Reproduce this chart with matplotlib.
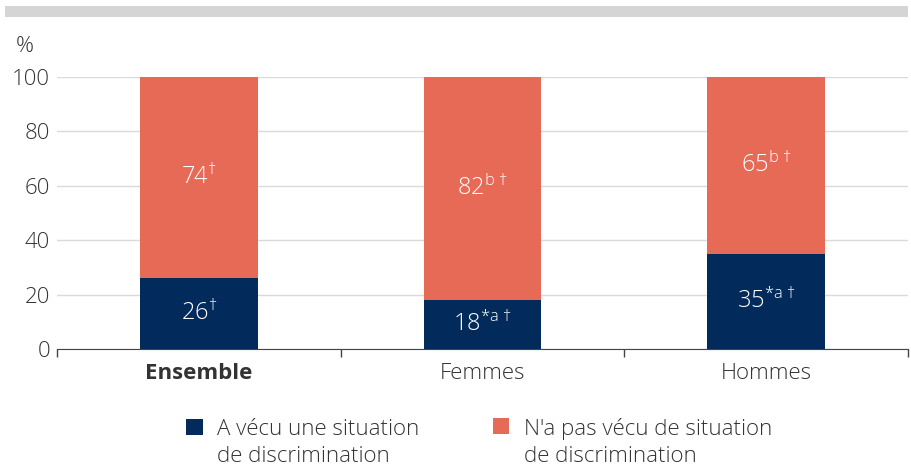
import matplotlib
matplotlib.use("Agg")
import matplotlib.pyplot as plt
from matplotlib.patches import Rectangle

plt.rcParams['font.family'] = ['Open Sans', 'DejaVu Sans']
plt.rcParams['font.weight'] = 'light'
plt.rcParams['mathtext.fontset'] = 'custom'
plt.rcParams['mathtext.rm'] = 'Open Sans:light'
plt.rcParams['mathtext.it'] = 'Open Sans:light'

categories = ["Ensemble", "Femmes", "Hommes"]
vecu = [26, 18, 35]
pas_vecu = [74, 82, 65]
vecu_marks = ["†", "*a †", "*a †"]
pas_vecu_marks = ["†", "b †", "b †"]
series_labels = ["A vécu une situation\nde discrimination",
                 "N'a pas vécu de situation\nde discrimination"]
yticks = [0, 20, 40, 60, 80, 100]

navy = "#022a5a"
coral = "#e76a57"
txt = "#333333"
FS = 16

W, H = 911, 468
fig = plt.figure(figsize=(W / 100, H / 100), dpi=100)
ax = fig.add_axes([57 / W, 1 - 349 / H, (908 - 57) / W, (349 - 77) / H])

# top grey band
fig.patches.append(Rectangle((5 / W, 1 - 17 / H), (908 - 5) / W, 11 / H,
                             transform=fig.transFigure, facecolor="#d4d5d4",
                             edgecolor="none"))

x = list(range(len(categories)))
bw = 0.415
b1 = ax.bar(x, vecu, width=bw, color=navy, label=series_labels[0], zorder=3)
b2 = ax.bar(x, pas_vecu, width=bw, bottom=vecu, color=coral,
            label=series_labels[1], zorder=3)

def lab(v, m):
    m2 = m.replace(" ", r"\ ")
    return r"$\mathrm{%d}^{\mathrm{%s}}$" % (v, m2)

for i in x:
    ax.text(i, vecu[i] / 2, lab(vecu[i], vecu_marks[i]), ha="center",
            va="center", color="white", fontsize=17, zorder=4)
    ax.text(i, vecu[i] + pas_vecu[i] / 2,
            lab(pas_vecu[i], pas_vecu_marks[i]), ha="center", va="center",
            color="white", fontsize=17, zorder=4)

ax.set_xlim(-0.5, 2.5)
ax.set_ylim(0, 100)
ax.set_yticks(yticks)
ax.set_yticklabels([str(t) for t in yticks], fontsize=FS, color=txt)
ax.tick_params(axis="y", length=0, pad=5)
ax.grid(axis="y", color="#dadada", lw=1, zorder=0)
ax.set_xticks(x)
ax.set_xticklabels(categories, fontsize=FS, color=txt)
ax.get_xticklabels()[0].set_fontweight("bold")
ax.tick_params(axis="x", which="major", length=0, pad=10)
ax.set_xticks([-0.5, 0.5, 1.5, 2.5], minor=True)
ax.tick_params(axis="x", which="minor", length=6, color="#444444", width=1)
for s in ["top", "right", "left"]:
    ax.spines[s].set_visible(False)
ax.spines["bottom"].set_color("#444444")

fig.text(25 / W, 1 - 46 / H, "%", ha="center", va="center", fontsize=FS, color=txt)

leg = fig.legend(handles=[b1, b2], labels=series_labels, ncol=2,
                 loc="upper left", bbox_to_anchor=(186 / W, 1 - 418 / H),
                 frameon=False, fontsize=FS, handlelength=0.75,
                 handleheight=0.75, handletextpad=0.65, columnspacing=3.3,
                 labelspacing=0, borderpad=0, borderaxespad=0)
for t in leg.get_texts():
    t.set_color(txt)
    t.set_linespacing(1.35)
for hp in leg._legend_handle_box.get_children():
    for c in hp.get_children():
        try:
            c.align = "top"
        except Exception:
            pass

fig.savefig("out.png", dpi=100)
